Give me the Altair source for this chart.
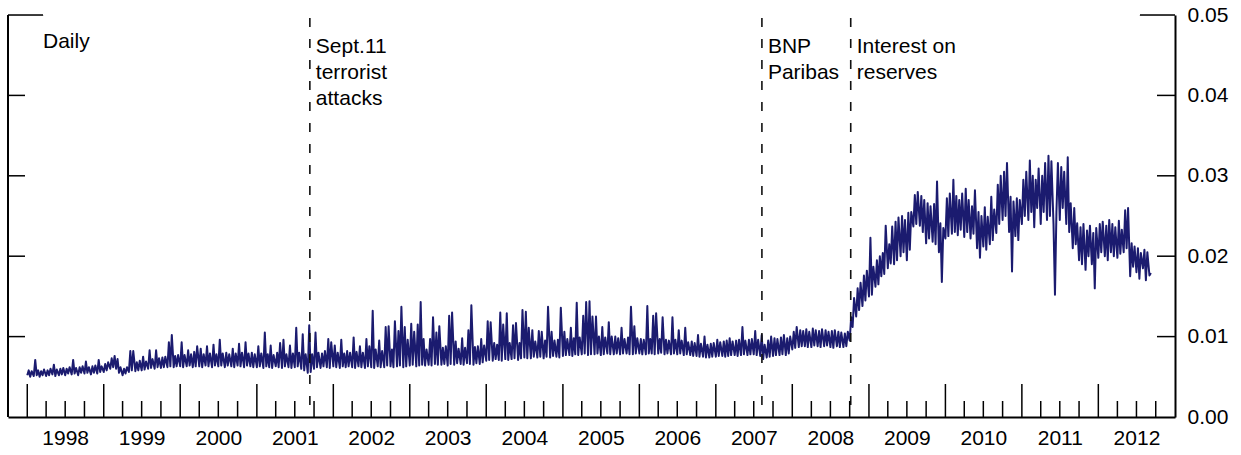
import altair as alt
import pandas as pd

# Readings of the daily series, in units of 1e-4 (55 -> 0.0055),
# four readings per month (around days 1, 8, 15, 22).
y1998 = [52, 58, 50, 57, 51, 71, 52, 58, 50, 57, 52, 59, 51, 58, 52, 60,
         53, 65, 51, 59, 52, 60, 53, 61, 52, 60, 54, 62, 53, 71, 54, 61,
         52, 62, 55, 63, 54, 69, 55, 62, 53, 63, 55, 64, 54, 71, 56, 63]
y1999 = [56, 66, 58, 68, 60, 73, 62, 76, 60, 72, 55, 62, 52, 60, 54, 62,
         56, 82, 58, 82, 57, 68, 58, 70, 58, 75, 59, 69, 60, 83, 61, 72,
         60, 83, 62, 73, 61, 74, 62, 75, 62, 93, 63, 102, 62, 76, 63, 77]
y2000 = [63, 93, 62, 77, 63, 83, 64, 78, 62, 81, 63, 88, 63, 85, 62, 78,
         64, 88, 63, 79, 62, 90, 64, 78, 63, 96, 64, 79, 62, 80, 64, 78,
         63, 85, 62, 79, 64, 91, 63, 80, 62, 93, 64, 79, 63, 80, 62, 78]
y2001 = [62, 88, 63, 79, 61, 105, 63, 78, 62, 89, 61, 77, 63, 80, 62, 92,
         61, 96, 63, 78, 62, 89, 61, 79, 62, 111, 63, 80, 60, 103, 58, 78,
         55, 114, 56, 78, 60, 105, 62, 80, 61, 79, 63, 82, 62, 97, 61, 93]
y2002 = [63, 89, 62, 80, 61, 96, 63, 79, 62, 82, 63, 80, 62, 99, 61, 81,
         63, 88, 62, 80, 61, 97, 63, 88, 62, 132, 61, 84, 63, 95, 62, 82,
         62, 112, 64, 113, 63, 84, 62, 119, 63, 107, 64, 137, 62, 112, 63, 96]
y2003 = [64, 116, 65, 106, 63, 115, 64, 143, 65, 97, 64, 84, 65, 97, 64, 124,
         66, 105, 65, 113, 65, 86, 66, 88, 64, 126, 66, 130, 65, 94, 67, 85,
         66, 98, 65, 86, 67, 108, 66, 139, 65, 87, 67, 88, 66, 97, 68, 89]
y2004 = [70, 119, 71, 118, 70, 92, 72, 90, 71, 130, 70, 115, 72, 129, 71, 92,
         72, 114, 73, 117, 71, 92, 73, 133, 74, 131, 73, 111, 73, 108, 75, 94,
         74, 107, 75, 106, 73, 95, 75, 137, 74, 106, 76, 95, 75, 96, 74, 136]
y2005 = [76, 106, 77, 97, 77, 111, 76, 98, 78, 142, 77, 99, 78, 126, 79, 143,
         77, 144, 78, 125, 78, 125, 79, 100, 77, 112, 78, 99, 79, 118, 78, 100,
         78, 100, 79, 98, 78, 111, 79, 97, 79, 99, 78, 137, 78, 113, 79, 98]
y2006 = [79, 97, 78, 96, 78, 138, 79, 97, 79, 126, 78, 129, 79, 97, 80, 124,
         78, 96, 79, 95, 78, 124, 79, 96, 78, 108, 79, 95, 77, 111, 78, 93,
         77, 94, 76, 92, 76, 102, 75, 91, 75, 100, 74, 90, 74, 91, 75, 92]
y2007 = [75, 96, 76, 93, 76, 94, 75, 95, 76, 98, 77, 94, 77, 95, 76, 96,
         77, 112, 78, 95, 77, 96, 78, 97, 78, 107, 77, 96, 76, 102, 72, 90,
         74, 95, 75, 100, 76, 98, 77, 97, 77, 99, 78, 102, 77, 98, 79, 100]
y2008 = [84, 106, 86, 112, 87, 108, 88, 107, 88, 109, 87, 106, 87, 110, 89, 108,
         88, 107, 87, 109, 88, 108, 89, 106, 87, 107, 86, 108, 88, 106, 87, 105,
         87, 104, 88, 106, 95, 124, 112, 148, 125, 160, 133, 167, 138, 176, 145, 182]
y2009 = [150, 223, 152, 187, 162, 195, 165, 200, 175, 204, 178, 238, 185, 215, 191, 237,
         190, 243, 195, 248, 200, 250, 205, 245, 195, 254, 208, 255, 237, 276, 240, 280,
         238, 275, 230, 270, 216, 266, 222, 262, 218, 265, 215, 293, 205, 241, 168, 235]
y2010 = [222, 272, 225, 278, 228, 295, 230, 275, 226, 270, 233, 278, 224, 284, 230, 270,
         222, 262, 228, 282, 210, 255, 198, 250, 212, 261, 208, 249, 215, 274, 220, 258,
         229, 289, 240, 300, 245, 305, 250, 316, 230, 274, 181, 268, 225, 272, 220, 270]
y2011 = [240, 295, 250, 305, 245, 319, 255, 300, 236, 295, 260, 309, 240, 300, 255, 316,
         245, 325, 250, 318, 240, 152, 255, 316, 245, 311, 260, 305, 240, 323, 230, 266,
         210, 260, 215, 241, 195, 236, 190, 240, 183, 232, 200, 238, 190, 229, 160, 235]
y2012 = [198, 240, 205, 243, 200, 238, 195, 245, 205, 240, 200, 236, 198, 244, 203, 233,
         205, 257, 210, 260, 175, 216, 187, 212, 180, 210, 172, 204, 185, 208, 170, 205,
         176, 179]

years = list(range(1998, 2013))
series = [y1998, y1999, y2000, y2001, y2002, y2003, y2004, y2005,
          y2006, y2007, y2008, y2009, y2010, y2011, y2012]
days = [1, 8, 15, 22]

rows = []
for yr, vals in zip(years, series):
    for i, v in enumerate(vals):
        rows.append({"date": f"{yr}-{i // 4 + 1:02d}-{days[i % 4]:02d}T00:00:00",
                     "value": v / 10000})
df = pd.DataFrame(rows)

event_labels = ["Sept.11\nterrorist\nattacks", "BNP\nParibas", "Interest on\nreserves"]
event_dates = ["2001-09-11T00:00:00", "2007-08-09T00:00:00", "2008-10-06T00:00:00"]
ev = pd.DataFrame({"date": event_dates, "label": event_labels})

y_ticks = [0.0, 0.01, 0.02, 0.03, 0.04, 0.05]

W, H = 1167, 402
FONT = "Liberation Sans"
LINE_COLOR = "#1b1b6f"

x_scale = alt.Scale(domain=[alt.DateTime(year=1997, month=10, date=1),
                            alt.DateTime(year=2013, month=1, date=1)])
y_scale = alt.Scale(domain=[0, 0.05], nice=False, zero=False)

x_axis = alt.Axis(orient="bottom",
                  values=[alt.DateTime(year=y, month=7, date=1) for y in years],
                  format="%Y", ticks=False, grid=False, domain=True,
                  domainColor="black", domainWidth=2, labelFontSize=21,
                  labelFont=FONT, labelColor="black", labelPadding=10,
                  labelFlush=False, labelOverlap=False, title=None)
y_axis = alt.Axis(orient="right", values=y_ticks, format=".2f", ticks=False,
                  grid=False, domain=True, domainColor="black", domainWidth=2,
                  labelFontSize=21, labelFont=FONT, labelColor="black",
                  labelPadding=12, labelOverlap=False, title=None)


def xenc(field="date:T"):
    return alt.X(field, scale=x_scale, axis=x_axis, title=None)


def yenc(field="value:Q"):
    return alt.Y(field, scale=y_scale, axis=y_axis, title=None)


major = pd.DataFrame({"date": [f"{y}-01-01T00:00:00" for y in years]})
minor = pd.DataFrame({"date": [f"{y}-{m:02d}-01T00:00:00" for y in years for m in (4, 7, 10)]})
ytk_small = pd.DataFrame({"value": [0.01, 0.02, 0.03, 0.04]})
ytk_big = pd.DataFrame({"value": [0.05]})

line = alt.Chart(df).mark_line(color=LINE_COLOR, strokeWidth=2, strokeJoin="round").encode(
    x=xenc(), y=yenc())

one = pd.DataFrame({"k": [0]})

# white strip hiding any frame line along the top edge of the plot
top_cover = alt.Chart(one).mark_rule(color="white", strokeWidth=4).encode(
    x=alt.value(36), x2=alt.value(W - 36), y=alt.value(0))

left_line = alt.Chart(one).mark_rule(color="black", strokeWidth=2).encode(
    x=alt.value(0), y=alt.value(0), y2=alt.value(H))

xmaj = alt.Chart(major).mark_rule(color="black", strokeWidth=1.5).encode(
    x=xenc(), y=alt.value(H - 33), y2=alt.value(H))
xmin = alt.Chart(minor).mark_rule(color="black", strokeWidth=1.5).encode(
    x=xenc(), y=alt.value(H - 16), y2=alt.value(H))

yl_small = alt.Chart(ytk_small).mark_rule(color="black", strokeWidth=1.5).encode(
    y=yenc(), x=alt.value(0), x2=alt.value(17))
yr_small = alt.Chart(ytk_small).mark_rule(color="black", strokeWidth=1.5).encode(
    y=yenc(), x=alt.value(W - 18), x2=alt.value(W))
yl_big = alt.Chart(ytk_big).mark_rule(color="black", strokeWidth=1.5).encode(
    y=yenc(), x=alt.value(0), x2=alt.value(35))
yr_big = alt.Chart(ytk_big).mark_rule(color="black", strokeWidth=1.5).encode(
    y=yenc(), x=alt.value(W - 35), x2=alt.value(W))

ev_rules = alt.Chart(ev).mark_rule(color="#111111", strokeWidth=1.6, strokeDash=[9, 12]).encode(
    x=xenc(), y=alt.value(3), y2=alt.value(H))

ev_text = alt.Chart(ev).mark_text(align="left", baseline="alphabetic", dx=6, fontSize=21,
                                  font=FONT, color="black", lineBreak="\n", lineHeight=26).encode(
    x=xenc(), y=alt.value(38), text="label:N")

daily = alt.Chart(pd.DataFrame({"t": ["Daily"]})).mark_text(
    align="left", baseline="alphabetic", fontSize=21, font=FONT, color="black").encode(
    x=alt.value(35), y=alt.value(33), text="t:N")

chart = alt.layer(
    line, top_cover, ev_rules, left_line, xmaj, xmin, yl_small, yr_small, yl_big, yr_big,
    ev_text, daily
).properties(
    width=W, height=H,
    autosize=alt.AutoSizeParams(type="none"),
    padding={"left": 8, "top": 15, "right": 66, "bottom": 38},
).configure_view(
    stroke="transparent", strokeWidth=0
).configure_axisTop(
    domain=False, labels=False, ticks=False, grid=False
).configure_axisLeft(
    domain=False, labels=False, ticks=False, grid=False
).configure(background="white")

chart.save("out.html", embed_options={"renderer": "svg", "actions": False})
